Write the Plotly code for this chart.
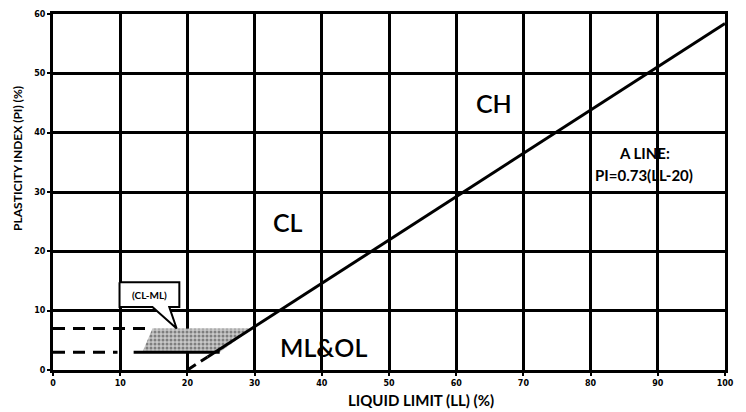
import plotly.graph_objects as go

# Axis ticks
x_ticks = [0, 10, 20, 30, 40, 50, 60, 70, 80, 90, 100]
x_tick_labels = ["0", "10", "20", "30", "40", "50", "60", "70", "80", "90", "100"]
y_ticks = [0, 10, 20, 30, 40, 50, 60]
y_tick_labels = ["0", "10", "20", "30", "40", "50", "60"]

x_title = "LIQUID LIMIT (LL) (%)"
y_title = "PLASTICITY INDEX (PI) (%)"

# A line: PI = 0.73 (LL - 20)
a_dash_ll = [20, 23.0]
a_dash_pi = [0, 2.2]
a_solid_ll = [23.0, 100]
a_solid_pi = [2.2, 58.4]
a_label_lines = ["A LINE:", "PI=0.73(LL-20)"]
a_label_ll = [88.0, 88.0]
a_label_pi = [36.6, 32.9]

# CL-ML band
band_upper_pi = 7
band_lower_pi = 3
upper_dash_ll = [0, 14.6]
lower_dash_ll = [0, 9.6]
lower_solid_ll = [12, 24.8]
band_poly_ll = [14.8, 29.6, 24.8, 13.3, 14.8]
band_poly_pi = [7, 7, 3, 3, 7]

# Callout box (CL-ML)
callout_ll = [9.9, 18.8, 18.8, 17.3, 18.4, 14.8, 9.9, 9.9]
callout_pi = [14.8, 14.8, 10.6, 10.6, 7.0, 10.6, 10.6, 14.8]

# Zone labels
zone_text = ["CH", "CL", "ML&OL"]
zone_ll = [65.6, 34.9, 40.2]
zone_pi = [45.0, 25.0, 3.9]

fig = go.Figure()

fig.add_trace(go.Scatter(
    x=band_poly_ll, y=band_poly_pi, mode="lines", fill="toself",
    fillcolor="rgba(170,170,170,1)",
    fillpattern=dict(shape=".", fgcolor="#333", bgcolor="#c8c8c8", size=4, solidity=0.45),
    line=dict(width=0), hoverinfo="skip", showlegend=False))

fig.add_trace(go.Scatter(x=upper_dash_ll, y=[band_upper_pi]*2, mode="lines",
    line=dict(color="black", width=3, dash="12px,8px"), showlegend=False))
fig.add_trace(go.Scatter(x=lower_dash_ll, y=[band_lower_pi]*2, mode="lines",
    line=dict(color="black", width=3, dash="12px,8px"), showlegend=False))
fig.add_trace(go.Scatter(x=lower_solid_ll, y=[band_lower_pi]*2, mode="lines",
    line=dict(color="black", width=3), showlegend=False))

fig.add_trace(go.Scatter(x=a_dash_ll, y=a_dash_pi, mode="lines",
    line=dict(color="black", width=3, dash="10px,6px"), showlegend=False))
fig.add_trace(go.Scatter(x=a_solid_ll, y=a_solid_pi, mode="lines",
    line=dict(color="black", width=3), showlegend=False))

fig.add_trace(go.Scatter(x=callout_ll, y=callout_pi, mode="lines", fill="toself",
    fillcolor="white", line=dict(color="black", width=2), showlegend=False))

fig.add_annotation(x=14.35, y=12.7, text="<b>(CL-ML)</b>", showarrow=False,
                   font=dict(size=10, color="black", family="Lato"))

for t, xx, yy in zip(zone_text, zone_ll, zone_pi):
    fig.add_annotation(x=xx, y=yy, text=t, showarrow=False,
                       font=dict(size=25, color="black", family="Lato", weight=600))

for t, xx, yy in zip(a_label_lines, a_label_ll, a_label_pi):
    fig.add_annotation(x=xx, y=yy, text="<b>%s</b>" % t, showarrow=False,
                       font=dict(size=15, color="black", family="Lato"))

# Axis titles as annotations (positioned like the reference)
fig.add_annotation(xref="paper", yref="paper", x=0.547, y=-0.085, yanchor="middle",
                   text="<b>%s</b>" % x_title, showarrow=False,
                   font=dict(size=15, color="black", family="Lato"))
fig.add_annotation(xref="paper", yref="paper", x=-0.054, y=0.595, xanchor="center", yanchor="middle",
                   textangle=-90, text="<b>%s</b>" % y_title, showarrow=False,
                   font=dict(size=12, color="black", family="Lato"))

axis_common = dict(showgrid=True, gridcolor="black", gridwidth=3, zeroline=False,
                   showline=True, linecolor="black", linewidth=3, mirror=True,
                   ticks="outside", ticklen=3, tickwidth=2, tickcolor="black",
                   automargin=False,
                   tickfont=dict(size=8, color="black", family="DejaVu Sans"))

fig.update_xaxes(range=[0, 100], tickvals=x_ticks, ticktext=["<b>%s</b>" % s for s in x_tick_labels],
                 **axis_common)
fig.update_yaxes(range=[0, 60], tickvals=y_ticks, ticktext=["<b>%s</b>" % s for s in y_tick_labels],
                 **axis_common)

fig.update_layout(width=746, height=412, plot_bgcolor="white", paper_bgcolor="white",
                  margin=dict(l=53, r=21, t=14, b=42), showlegend=False)

fig.write_html("out.html", config={"displayModeBar": False},
               post_script="document.body.style.margin='0';document.body.style.overflow='hidden';")
